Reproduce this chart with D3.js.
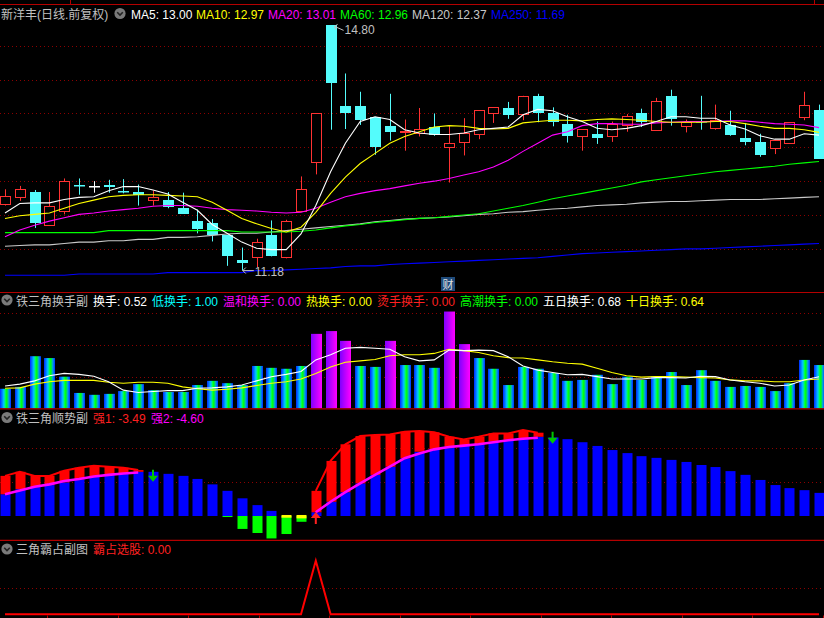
<!DOCTYPE html>
<html><head><meta charset="utf-8">
<script src="https://cdn.jsdelivr.net/npm/d3@7"></script>
<style>html,body{margin:0;padding:0;background:#000;overflow:hidden}</style>
</head><body>
<svg id="c" width="824" height="618"></svg>
<script>
// ---------- DATA ----------
const N = 56;
const bars = d3.range(N);
const openP = [12.17,12.27,12.34,11.86,12.06,12.44,12.43,12.44,12.36,12.34,12.22,12.22,12.10,11.91,11.88,11.70,11.34,11.38,11.70,11.38,12.06,12.79,14.80,13.61,13.61,13.45,13.32,13.22,13.21,13.30,13.00,13.08,13.20,13.50,13.58,13.49,13.76,13.51,13.35,13.16,13.20,13.16,13.33,13.51,13.25,13.76,13.32,13.39,13.28,13.33,13.14,13.08,12.99,13.07,13.44,13.55];
const closeP = [12.28,12.38,11.88,12.13,12.50,12.43,12.43,12.42,12.34,12.29,12.26,12.12,12.02,11.79,11.70,11.39,11.29,11.60,11.40,11.91,12.38,13.50,13.95,13.50,13.40,13.01,13.23,13.24,13.27,13.18,13.06,13.21,13.55,13.59,13.48,13.76,13.51,13.37,13.17,13.27,13.14,13.35,13.46,13.37,13.68,13.42,13.37,13.37,13.41,13.18,13.08,12.89,13.11,13.37,13.62,12.83];
const highP = [12.38,12.43,12.37,12.34,12.54,12.54,12.50,12.52,12.53,12.45,12.36,12.34,12.33,12.08,11.94,11.70,11.52,11.65,11.92,11.93,12.57,13.50,14.80,14.09,13.82,13.45,13.79,13.41,13.58,13.50,13.32,13.43,13.55,13.59,13.67,13.76,13.79,13.59,13.48,13.27,13.38,13.38,13.49,13.57,13.73,13.85,13.41,13.76,13.63,13.54,13.36,13.20,13.11,13.37,13.82,13.63];
const lowP = [12.14,12.21,11.81,11.85,12.01,12.30,12.33,12.33,12.32,12.14,12.14,12.10,12.02,11.73,11.61,11.25,11.18,11.23,11.39,11.36,12.06,12.60,13.26,13.27,13.33,12.89,13.10,12.95,13.16,13.17,12.48,12.88,13.12,13.36,13.42,13.40,13.37,13.31,13.07,12.95,13.05,13.08,13.23,13.30,13.25,13.32,13.22,13.26,13.26,13.17,13.03,12.86,12.90,13.07,13.40,12.83];
const ma5 = [12.03,12.17,12.18,12.18,12.23,12.26,12.27,12.36,12.42,12.42,12.37,12.31,12.19,12.07,11.86,11.73,11.60,11.51,11.49,11.49,11.72,12.14,12.64,13.06,13.38,13.45,13.41,13.26,13.21,13.19,13.19,13.21,13.26,13.28,13.30,13.48,13.56,13.54,13.45,13.38,13.28,13.26,13.28,13.32,13.38,13.45,13.45,13.43,13.43,13.33,13.27,13.17,13.12,13.12,13.20,13.18];
const ma10 = [11.95,11.99,12.01,12.03,12.10,12.17,12.22,12.27,12.29,12.30,12.30,12.29,12.28,12.27,12.19,12.07,11.95,11.87,11.80,11.75,11.82,12.04,12.32,12.56,12.76,12.91,13.06,13.16,13.23,13.30,13.32,13.31,13.28,13.27,13.28,13.36,13.38,13.40,13.40,13.39,13.41,13.42,13.41,13.40,13.38,13.37,13.37,13.37,13.38,13.38,13.35,13.31,13.28,13.28,13.26,13.22];
const ma20 = [11.68,11.78,11.85,11.91,11.96,12.01,12.03,12.06,12.08,12.10,12.13,12.14,12.14,12.13,12.10,12.08,12.07,12.06,12.04,12.03,12.04,12.10,12.19,12.27,12.32,12.36,12.39,12.43,12.47,12.50,12.54,12.59,12.64,12.71,12.81,12.94,13.06,13.18,13.23,13.32,13.35,13.35,13.34,13.34,13.36,13.37,13.38,13.38,13.38,13.39,13.39,13.37,13.35,13.34,13.33,13.29];
const ma60 = [11.74,11.74,11.74,11.74,11.74,11.74,11.74,11.77,11.77,11.77,11.77,11.77,11.77,11.77,11.77,11.77,11.75,11.75,11.75,11.75,11.76,11.78,11.81,11.84,11.86,11.89,11.91,11.93,11.95,11.96,11.98,12.00,12.02,12.06,12.10,12.14,12.19,12.24,12.28,12.32,12.36,12.40,12.44,12.49,12.52,12.55,12.58,12.61,12.64,12.66,12.68,12.70,12.72,12.75,12.77,12.79];
const ma120 = [11.54,11.55,11.56,11.56,11.58,11.60,11.60,11.62,11.62,11.64,11.64,11.67,11.67,11.68,11.70,11.72,11.73,11.73,11.75,11.77,11.79,11.81,11.83,11.85,11.87,11.90,11.92,11.94,11.95,11.96,11.97,11.99,12.01,12.02,12.04,12.05,12.07,12.09,12.10,12.12,12.14,12.15,12.16,12.18,12.19,12.20,12.20,12.21,12.22,12.23,12.23,12.23,12.24,12.25,12.26,12.27];
const ma250 = [11.11,11.11,11.11,11.11,11.11,11.13,11.13,11.13,11.13,11.13,11.13,11.15,11.15,11.15,11.15,11.15,11.15,11.18,11.18,11.19,11.20,11.21,11.22,11.24,11.25,11.25,11.27,11.28,11.29,11.30,11.31,11.32,11.33,11.34,11.35,11.36,11.37,11.39,11.41,11.43,11.44,11.45,11.46,11.47,11.48,11.49,11.50,11.50,11.51,11.52,11.53,11.54,11.55,11.56,11.57,11.58];
const priceTicks = [11.5,12.0,12.5,13.0,13.5,14.0,14.5];
const highMark = {i:22, label:"14.80"};
const lowMark = {i:16, label:"11.18"};

const turn = [0.42,0.46,1.12,1.08,0.68,0.33,0.29,0.31,0.37,0.52,0.39,0.35,0.35,0.50,0.59,0.54,0.50,0.91,0.87,0.85,0.91,1.60,1.66,1.45,0.91,0.89,1.45,0.93,0.93,0.87,2.08,1.38,1.08,0.85,0.50,0.89,0.85,0.76,0.59,0.61,0.72,0.52,0.68,0.61,0.69,0.78,0.50,0.82,0.59,0.46,0.48,0.46,0.37,0.54,1.04,0.93];
const turn5 = [0.48,0.52,0.59,0.70,0.75,0.73,0.69,0.57,0.39,0.34,0.36,0.38,0.38,0.43,0.44,0.46,0.50,0.59,0.68,0.73,0.79,1.04,1.15,1.29,1.31,1.29,1.27,1.11,1.02,1.04,1.25,1.24,1.25,1.24,1.11,0.91,0.82,0.77,0.72,0.73,0.68,0.63,0.63,0.63,0.66,0.66,0.65,0.69,0.68,0.61,0.57,0.54,0.48,0.50,0.61,0.68];
const turn10 = [0.43,0.44,0.52,0.57,0.60,0.60,0.60,0.56,0.54,0.56,0.56,0.54,0.46,0.42,0.39,0.41,0.44,0.49,0.54,0.57,0.63,0.75,0.89,0.99,1.02,1.05,1.13,1.15,1.15,1.18,1.27,1.24,1.20,1.13,1.09,1.08,1.04,1.00,0.97,0.95,0.86,0.77,0.70,0.67,0.68,0.68,0.67,0.66,0.65,0.61,0.59,0.59,0.57,0.57,0.61,0.63];
const turnTicks = [0.68,1.36,2.04];
const hotTurn = 1.3;

const trendBlue = [6.4,7.9,8.5,9.1,9.9,10.8,11.6,12.1,12.5,13.0,13.0,12.4,11.8,10.9,9.3,7.4,5.2,3.2,1.5,0,0,1.1,4.2,7.0,9.6,12.1,14.5,17.0,18.9,19.7,20.4,20.7,21.1,21.9,22.4,22.8,23.3,23.1,22.6,21.7,20.6,19.4,18.5,17.6,17.1,16.5,15.9,15.0,14.4,13.2,12.1,10.6,9.1,8.2,7.6,6.8];
const trendRed = [11.8,13.0,11.8,11.8,13.3,14.2,14.8,14.5,14.2,13.5,null,null,null,null,null,null,null,null,null,null,null,7.4,16.2,21.1,23.5,23.8,24.0,24.8,25.0,24.6,23.3,22.5,23.3,24.3,24.3,25.3,24.5,null,null,null,null,null,null,null,null,null,null,null,null,null,null,null,null,null,null,null];
const trendMag = [6.4,7.5,8.6,9.3,10.3,10.9,11.6,12.1,12.5,12.8,null,null,null,null,null,null,null,null,null,null,null,1.1,4.2,7.0,9.6,12.1,14.5,17.0,18.4,19.6,20.3,20.7,21.1,21.7,22.3,22.7,23.0,null,null,null,null,null,null,null,null,null,null,null,null,null,null,null,null,null,null,null];
const trendGreen = [0,0,0,0,0,0,0,0,0,0,0,0,0,0,0,-0.3,-3.8,-5.0,-6.6,-5.3,-1.7,0,0,0,0,0,0,0,0,0,0,0,0,0,0,0,0,0,0,0,0,0,0,0,0,0,0,0,0,0,0,0,0,0,0,0];
const trendYellow = [{i:19, top:0.3, bottom:-0.5},{i:20, top:0.3, bottom:-0.7}];
const arrowsDown = [{i:10, v:13.6},{i:37, v:24.8}];
const arrowsUp = [{i:21, v:1.2}];
const trendTicks = [10, 20];

const pick = [0,0,0,0,0,0,0,0,0,0,0,0,0,0,0,0,0,0,0,0,0,1,0,0,0,0,0,0,0,0,0,0,0,0,0,0,0,0,0,0,0,0,0,0,0,0,0,0,0,0,0,0,0,0,0,0];
const pickTicks = [0.5];

// ---------- DRAW ----------
const svg = d3.select("#c");
const W = 824;
svg.append("rect").attr("width", W).attr("height", 618).attr("fill", "#000");
const FONT = "'Liberation Sans','Noto Sans CJK SC',sans-serif";
const RED = "#ff3232", CYAN = "#54fcfc", SEP = "#b40000", GRID = "#8c0000";

const x = d3.scaleLinear().domain([0, N - 1]).range([5, 819]);
const px = i => Math.round(x(i)) + 0.5;

function grid(y, vals) {
  svg.append("g").selectAll("line").data(vals).join("line")
    .attr("x1", 0).attr("x2", W)
    .attr("y1", d => Math.round(y(d)) + 0.5).attr("y2", d => Math.round(y(d)) + 0.5)
    .attr("stroke", GRID).attr("stroke-width", 1).attr("stroke-dasharray", "1,3");
}
function sep(yy) {
  svg.append("line").attr("x1", 0).attr("x2", W).attr("y1", yy).attr("y2", yy)
    .attr("stroke", SEP).attr("stroke-width", 1.2);
}
function icon(cx, cy) {
  svg.append("circle").attr("cx", cx).attr("cy", cy).attr("r", 5.6).attr("fill", "#7a7a7a");
  svg.append("path").attr("d", `M${cx-2.8},${cy-1.2} L${cx},${cy+1.6} L${cx+2.8},${cy-1.2}`)
    .attr("fill", "none").attr("stroke", "#222").attr("stroke-width", 1.6);
}
function legend(items, y) {
  const g = svg.append("g").attr("font-family", FONT).attr("font-size", 12);
  g.selectAll("text").data(items).join("text")
    .attr("x", d => d.x).attr("y", y).attr("fill", d => d.c).text(d => d.t);
}

// ===== Panel 1: candles =====
const yP = d3.scaleLinear().domain([11.5, 14.5]).range([248.9, 45.7]);
sep(4.5);
svg.append("line").attr("x1", 70.5).attr("x2", 70.5).attr("y1", 0).attr("y2", 4.5).attr("stroke", SEP);
svg.append("line").attr("x1", 814.5).attr("x2", 814.5).attr("y1", 0).attr("y2", 4.5).attr("stroke", SEP);
grid(yP, priceTicks);

const cg = svg.append("g");
bars.forEach(i => {
  const o = openP[i], c = closeP[i], h = highP[i], l = lowP[i];
  const col = c > o ? RED : (c < o ? CYAN : "#ffffff");
  const xc = px(i);
  const top = Math.round(yP(Math.max(o, c))), bot = Math.round(yP(Math.min(o, c)));
  const bw = 10;
  if (c > o) {
    cg.append("line").attr("x1", xc).attr("x2", xc).attr("y1", yP(h)).attr("y2", top).attr("stroke", col);
    cg.append("line").attr("x1", xc).attr("x2", xc).attr("y1", bot).attr("y2", yP(l)).attr("stroke", col);
    cg.append("rect").attr("x", xc - bw / 2).attr("y", top + 0.5).attr("width", bw).attr("height", Math.max(1, bot - top))
      .attr("fill", "#000").attr("stroke", col).attr("stroke-width", 1);
  } else {
    cg.append("line").attr("x1", xc).attr("x2", xc).attr("y1", yP(h)).attr("y2", yP(l)).attr("stroke", col);
    cg.append("rect").attr("x", xc - bw / 2 - 0.5).attr("y", top).attr("width", bw + 1).attr("height", Math.max(1.5, bot - top))
      .attr("fill", col);
  }
});

const lineP = arr => d3.line().x((d, i) => x(i)).y(d => yP(d))(arr);
[[ma250, "#0000ff"], [ma120, "#c8c8c8"], [ma60, "#00ff00"], [ma20, "#ff00ff"], [ma10, "#ffff00"], [ma5, "#ffffff"]]
  .forEach(([arr, col]) => {
    svg.append("path").attr("d", lineP(arr)).attr("fill", "none").attr("stroke", col).attr("stroke-width", 1.1);
  });

// high / low labels
{
  const hx = x(highMark.i) + 4, hy = yP(highP[highMark.i]);
  svg.append("path").attr("d", `M${hx},${hy + 1} L${hx + 9},${hy + 5} M${hx},${hy + 1} L${hx + 3},${hy - 1} M${hx},${hy+1} L${hx+1},${hy+4}`)
    .attr("stroke", "#c0c0c0").attr("fill", "none");
  svg.append("text").attr("x", hx + 10).attr("y", hy + 9).attr("fill", "#c0c0c0")
    .attr("font-family", FONT).attr("font-size", 12).text(highMark.label);
  const lx = x(lowMark.i) + 1, ly = yP(lowP[lowMark.i]);
  svg.append("path").attr("d", `M${lx},${ly} L${lx + 11},${ly} M${lx},${ly} L${lx + 3},${ly - 3} M${lx},${ly} L${lx + 3},${ly + 3}`)
    .attr("stroke", "#c0c0c0").attr("fill", "none");
  svg.append("text").attr("x", lx + 12).attr("y", ly + 5).attr("fill", "#c0c0c0")
    .attr("font-family", FONT).attr("font-size", 12).text(lowMark.label);
}
// 财 badge
svg.append("rect").attr("x", 441).attr("y", 277).attr("width", 14).attr("height", 14).attr("fill", "#1e4a7a");
svg.append("text").attr("x", 448).attr("y", 289).attr("text-anchor", "middle").attr("fill", "#e0e0e0")
  .attr("font-family", FONT).attr("font-size", 11).text("财");

icon(120, 13.5);
legend([
  {x: 1, t: "新洋丰(日线.前复权)", c: "#c0c0c0"},
  {x: 131, t: "MA5: 13.00", c: "#ffffff"},
  {x: 196, t: "MA10: 12.97", c: "#ffff00"},
  {x: 268, t: "MA20: 13.01", c: "#ff00ff"},
  {x: 340, t: "MA60: 12.96", c: "#00ff00"},
  {x: 412, t: "MA120: 12.37", c: "#c8c8c8"},
  {x: 491, t: "MA250: 11.69", c: "#0000ff"}
], 18.5);

// ===== Panel 2: turnover =====
sep(292.5);
const yT = d3.scaleLinear().domain([0, 2.04]).range([408.3, 313.4]);
grid(yT, turnTicks);
const defs = svg.append("defs");
const g1 = defs.append("linearGradient").attr("id", "gBG").attr("x1", 0).attr("x2", 1).attr("y1", 0).attr("y2", 0);
[[0, "#0028ff"], [0.18, "#0078ff"], [0.35, "#00c8ff"], [0.5, "#00ff50"], [0.62, "#00ff00"], [0.75, "#00c0b0"], [0.88, "#0070ff"], [1, "#0030ff"]]
  .forEach(([o, c]) => g1.append("stop").attr("offset", o).attr("stop-color", c));
const g2 = defs.append("linearGradient").attr("id", "gMG").attr("x1", 0).attr("x2", 1).attr("y1", 0).attr("y2", 0);
[[0, "#8000ff"], [0.5, "#c000ff"], [1, "#ff00ff"]]
  .forEach(([o, c]) => g2.append("stop").attr("offset", o).attr("stop-color", c));
svg.append("g").selectAll("rect").data(bars).join("rect")
  .attr("x", i => Math.round(x(i)) - 5).attr("width", 11)
  .attr("y", i => yT(turn[i])).attr("height", i => yT(0) - yT(turn[i]))
  .attr("fill", i => turn[i] > hotTurn ? "url(#gMG)" : "url(#gBG)");
const lineT = arr => d3.line().x((d, i) => x(i)).y(d => yT(d))(arr);
svg.append("path").attr("d", lineT(turn10)).attr("fill", "none").attr("stroke", "#ffff00").attr("stroke-width", 1.1);
svg.append("path").attr("d", lineT(turn5)).attr("fill", "none").attr("stroke", "#ffffff").attr("stroke-width", 1.1);
icon(7, 300);
legend([
  {x: 16, t: "铁三角换手副", c: "#c0c0c0"},
  {x: 93, t: "换手: 0.52", c: "#ffffff"},
  {x: 152, t: "低换手: 1.00", c: "#00ffff"},
  {x: 223, t: "温和换手: 0.00", c: "#ff00ff"},
  {x: 306, t: "热换手: 0.00", c: "#ffff00"},
  {x: 377, t: "烫手换手: 0.00", c: "#ff2020"},
  {x: 460, t: "高潮换手: 0.00", c: "#00ff00"},
  {x: 543, t: "五日换手: 0.68", c: "#ffffff"},
  {x: 626, t: "十日换手: 0.64", c: "#ffff00"}
], 305.5);

// ===== Panel 3: trend =====
sep(408.8);
const yR = d3.scaleLinear().domain([0, 20]).range([516, 448]);
grid(yR, trendTicks);
const bw3 = 10;
const g3 = svg.append("g");
g3.selectAll("rect.b").data(bars.filter(i => trendBlue[i] > 0)).join("rect")
  .attr("x", i => Math.round(x(i)) - 4.5).attr("width", bw3)
  .attr("y", i => yR(trendBlue[i])).attr("height", i => yR(0) - yR(trendBlue[i])).attr("fill", "#0000ff");
g3.selectAll("rect.g").data(bars.filter(i => trendGreen[i] < 0)).join("rect")
  .attr("x", i => Math.round(x(i)) - 4.5).attr("width", bw3)
  .attr("y", yR(0)).attr("height", i => yR(trendGreen[i]) - yR(0)).attr("fill", "#00ff00");
g3.selectAll("rect.y").data(trendYellow).join("rect")
  .attr("x", d => Math.round(x(d.i)) - 4.5).attr("width", bw3)
  .attr("y", d => yR(d.top)).attr("height", d => yR(d.bottom) - yR(d.top)).attr("fill", "#ffff00");
g3.selectAll("rect.r").data(bars.filter(i => trendRed[i] != null)).join("rect")
  .attr("x", i => Math.round(x(i)) - 4.5).attr("width", bw3)
  .attr("y", i => yR(trendRed[i])).attr("height", i => Math.max(0, yR(trendBlue[i]) - yR(trendRed[i]))).attr("fill", "#ff0000");
const lineR = d3.line().defined(d => d != null).x((d, i) => x(i)).y(d => yR(d));
svg.append("path").attr("d", lineR(trendRed)).attr("fill", "none").attr("stroke", "#ff0000").attr("stroke-width", 2);
svg.append("path").attr("d", lineR(trendMag)).attr("fill", "none").attr("stroke", "#ff00ff").attr("stroke-width", 2.6);
arrowsDown.forEach(a => {
  const cx = x(a.i), t = yR(a.v);
  svg.append("path").attr("d", `M${cx - 1},${t} h2 v6 h4 l-5,6 l-5,-6 h4 z`).attr("fill", "#00c800");
});
arrowsUp.forEach(a => {
  const cx = x(a.i), t = yR(a.v);
  svg.append("path").attr("d", `M${cx},${t} l5,6 h-4 v6 h-2 v-6 h-4 z`).attr("fill", "#ff2020");
});
icon(7, 417.5);
legend([
  {x: 16, t: "铁三角顺势副", c: "#c0c0c0"},
  {x: 93, t: "强1: -3.49", c: "#ff2020"},
  {x: 151, t: "强2: -4.60", c: "#ff00ff"}
], 422.5);

// ===== Panel 4: pick =====
sep(540.3);
const yK = d3.scaleLinear().domain([0, 1]).range([614.3, 560.7]);
grid(yK, pickTicks);
svg.append("path").attr("d", d3.line().x((d, i) => x(i)).y(d => yK(d))(pick))
  .attr("fill", "none").attr("stroke", "#ff0000").attr("stroke-width", 2);
svg.append("g").selectAll("line").data(d3.range(47, 824, 70.5)).join("line")
  .attr("x1", d => Math.round(d) + 0.5).attr("x2", d => Math.round(d) + 0.5).attr("y1", 615.5).attr("y2", 618)
  .attr("stroke", SEP);
icon(7, 549);
legend([
  {x: 16, t: "三角霸占副图", c: "#c0c0c0"},
  {x: 93, t: "霸占选股: 0.00", c: "#ff2020"}
], 553.5);
</script>
</body></html>
